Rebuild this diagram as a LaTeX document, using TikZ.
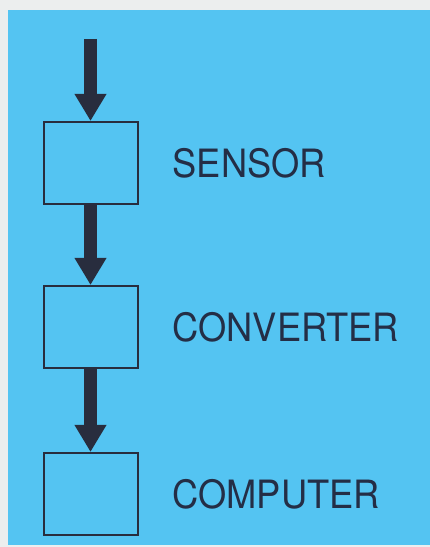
\documentclass[tikz,border=0pt]{standalone}
\usepackage{fontspec}
\newfontfamily\labelfont[FakeStretch=0.93]{TeX Gyre Heros}
\definecolor{bgpaper}{RGB}{236,238,238}
\definecolor{bgblue}{RGB}{84,196,242}
\definecolor{inkdark}{RGB}{40,45,62}
\definecolor{inktext}{RGB}{36,46,70}
\usetikzlibrary{arrows.meta,positioning}

\begin{document}
\begin{tikzpicture}[x=1pt,y=1pt,
    stage/.style={draw=inkdark,line width=2pt,minimum width=94pt,minimum height=82pt,inner sep=0pt},
    tag/.style={font=\labelfont\fontsize{39}{44}\selectfont,text=inktext,inner sep=0pt,anchor=west},
    flow/.style={draw=inkdark,line width=13pt,-{Triangle[width=30pt,length=27pt]}}]
  %% Paper and blue panel
  \useasboundingbox (0,0) rectangle (430,547);
  \fill[bgpaper] (0,0) rectangle (430,547);
  \fill[bgblue] (8,2) rectangle (430,537);

  %% Stages
  \node[stage] (sensor) at (90.5,384) {};
  \node[stage,below=80pt of sensor] (converter) {};
  \node[stage,below=83pt of converter] (computer) {};

  %% Labels
  \node[tag,right=34pt of sensor] (sensorlbl) {SENSOR};
  \node[tag,right=34pt of converter] (converterlbl) {CONVERTER};
  \node[tag,right=34pt of computer] (computerlbl) {COMPUTER};

  %% Signal flow
  \coordinate[above=82pt of sensor.north] (feed);
  \draw[flow] (feed) -- (sensor.north);
  \draw[flow] (sensor.south) -- (converter.north);
  \draw[flow] (converter.south) -- (computer.north);
\end{tikzpicture}
\end{document}
